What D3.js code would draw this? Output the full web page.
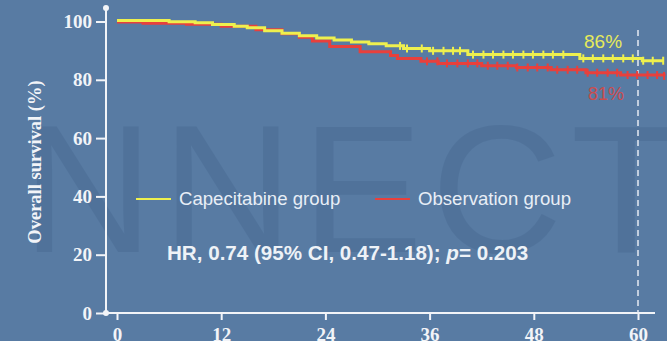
<!DOCTYPE html>
<html>
<head>
<meta charset="utf-8">
<script src="https://cdn.jsdelivr.net/npm/d3@7"></script>
<style>
  html, body { margin: 0; padding: 0; background: #587ba3; }
  svg { display: block; }
</style>
</head>
<body>
<div id="chart"></div>
<script>
// Kaplan-Meier steps (months, % surviving)
var capTime = [0, 6, 9, 11, 13.5, 15, 17, 19, 21, 23, 25, 27, 29, 31, 33, 36, 40.4, 53.3, 60.5, 63];
var capSurv = [100, 99.6, 99.2, 98.6, 98.0, 97.5, 96.5, 95.6, 94.8, 94.0, 93.3, 92.6, 92.0, 91.3, 90.4, 89.6, 88.3, 87.0, 86.2, 86.2];
var obsTime = [0, 3, 8, 12, 16, 19, 21, 22.5, 24.5, 28, 31.5, 32.3, 35, 37, 42, 46, 50, 54, 58, 63];
var obsSurv = [100, 99.6, 99.2, 98.5, 97.3, 96.0, 94.8, 93.5, 91.6, 89.8, 88.5, 87.5, 86.5, 85.8, 85.0, 84.4, 83.6, 82.6, 81.8, 81.5];
// censor marks (months)
var capCensor = [32.6, 33.4, 35.1, 36.4, 37.6, 38.7, 39.5, 41, 42.2, 43.3, 44.5, 45.6, 46.8, 47.9, 49.1, 50.2, 51.4,
                 53.7, 54.8, 56, 57.1, 58.3, 59.4, 60.6, 61.7, 62.9];
var obsCensor = [35.7, 36.9, 38, 39.2, 40.4, 41.5, 42.7, 43.8, 45, 46.1, 47.3, 48.4, 49.6, 50.7, 51.9, 53, 54.2,
                 55.3, 56.5, 57.6, 58.8, 59.9, 61.1, 62.2, 63];
var xTicks = [0, 12, 24, 36, 48, 60];
var yTicks = [0, 20, 40, 60, 80, 100];
var seriesNames = ["Capecitabine group", "Observation group"];
var endLabels = ["86%", "81%"];

var W = 667, H = 341;
var yellow = "#eef04e", red = "#e8403c";
var serif = "Liberation Serif, Times New Roman, serif";
var sans = "Liberation Sans, Arial, sans-serif";

var svg = d3.select("#chart").append("svg")
    .attr("width", W)
    .attr("height", H)
    .style("background", "#587ba3");

// faint watermark behind everything
svg.append("text")
    .attr("x", 22)
    .attr("y", 252)
    .attr("font-family", sans)
    .attr("font-size", 182)
    .attr("textLength", 660)
    .attr("fill", "#4a6b93")
    .attr("opacity", 0.5)
    .text("NNECT");

var x = d3.scaleLinear().domain([0, 60]).range([117, 638]);
var y = d3.scaleLinear().domain([0, 100]).range([313, 21.5]);

// axes
var axisColor = "#f2f4f8";
svg.append("line").attr("x1", 106).attr("x2", 106).attr("y1", 8).attr("y2", 313)
    .attr("stroke", axisColor).attr("stroke-width", 2);
svg.append("line").attr("x1", 106).attr("x2", 655).attr("y1", 313).attr("y2", 313)
    .attr("stroke", axisColor).attr("stroke-width", 2);
svg.append("circle").attr("cx", 106).attr("cy", 8).attr("r", 3).attr("fill", axisColor);
svg.append("circle").attr("cx", 106).attr("cy", 313).attr("r", 3).attr("fill", axisColor);

var yAxis = svg.append("g")
    .attr("transform", "translate(106,0)")
    .call(d3.axisLeft(y).tickValues(yTicks).tickSize(10).tickPadding(4));
var xAxis = svg.append("g")
    .attr("transform", "translate(0,313)")
    .call(d3.axisBottom(x).tickValues(xTicks).tickSize(7).tickPadding(5));
[yAxis, xAxis].forEach(function(g) {
  g.select(".domain").remove();
  g.selectAll("line").attr("stroke", axisColor).attr("stroke-width", 2);
  g.selectAll("text")
      .attr("fill", axisColor)
      .attr("font-family", serif)
      .attr("font-weight", "bold")
      .attr("font-size", 19);
});
xAxis.selectAll("text").attr("dy", "0.85em");

svg.append("text")
    .attr("transform", "translate(41,162) rotate(-90)")
    .attr("text-anchor", "middle")
    .attr("fill", axisColor)
    .attr("font-family", serif)
    .attr("font-weight", "bold")
    .attr("font-size", 18.5)
    .text("Overall survival (%)");

// 60-month reference line
svg.append("line")
    .attr("x1", x(60)).attr("x2", x(60))
    .attr("y1", 30).attr("y2", 313)
    .attr("stroke", "#e6ecf4")
    .attr("stroke-width", 1.5)
    .attr("stroke-dasharray", "6,4");

// curves
var line = d3.line()
    .x(function(d) { return x(d[0]); })
    .y(function(d) { return y(d[1]); })
    .curve(d3.curveStepAfter);

function stepValue(times, surv, t) {
  var v = surv[0];
  for (var i = 0; i < times.length; i++) { if (times[i] <= t) v = surv[i]; }
  return v;
}

function drawGroup(times, surv, censor, color, nudge) {
  var pts = d3.zip(times, surv);
  svg.append("path")
      .datum(pts)
      .attr("fill", "none")
      .attr("stroke", color)
      .attr("stroke-width", 3)
      .attr("transform", "translate(0," + nudge + ")")
      .attr("d", line);
  svg.append("g")
      .attr("transform", "translate(0," + nudge + ")")
    .selectAll("line")
    .data(censor)
    .join("line")
      .attr("x1", function(d) { return x(d); })
      .attr("x2", function(d) { return x(d); })
      .attr("y1", function(d) { return y(stepValue(times, surv, d)) - 4; })
      .attr("y2", function(d) { return y(stepValue(times, surv, d)) + 4; })
      .attr("stroke", color)
      .attr("stroke-width", 2);
}
drawGroup(obsTime, obsSurv, obsCensor, red, 0.5);
drawGroup(capTime, capSurv, capCensor, yellow, -1);

// end labels
svg.append("text").attr("x", 584).attr("y", 48)
    .attr("fill", "#e6ea5a")
    .attr("font-family", sans)
    .attr("font-size", 19)
    .text(endLabels[0]);
svg.append("text").attr("x", 588).attr("y", 100)
    .attr("fill", "#e0453f")
    .attr("font-family", sans)
    .attr("font-size", 18)
    .attr("opacity", 0.85)
    .text(endLabels[1]);

// legend
var legend = [
  {name: seriesNames[0], color: yellow, x1: 136},
  {name: seriesNames[1], color: red, x1: 375}
];
legend.forEach(function(d) {
  svg.append("line")
      .attr("x1", d.x1).attr("x2", d.x1 + 35)
      .attr("y1", 199).attr("y2", 199)
      .attr("stroke", d.color)
      .attr("stroke-width", 2);
  svg.append("text")
      .attr("x", d.x1 + 43).attr("y", 205)
      .attr("fill", "#e8eef6")
      .attr("font-family", sans)
      .attr("font-size", 18.6)
      .text(d.name);
});

var hr = svg.append("text")
    .attr("x", 167).attr("y", 260)
    .attr("fill", "#eef2f7")
    .attr("font-family", sans)
    .attr("font-weight", "bold")
    .attr("font-size", 20.6);
hr.append("tspan").text("HR, 0.74 (95% CI, 0.47-1.18); ");
hr.append("tspan").attr("font-style", "italic").text("p");
hr.append("tspan").text("= 0.203");
</script>
</body>
</html>
